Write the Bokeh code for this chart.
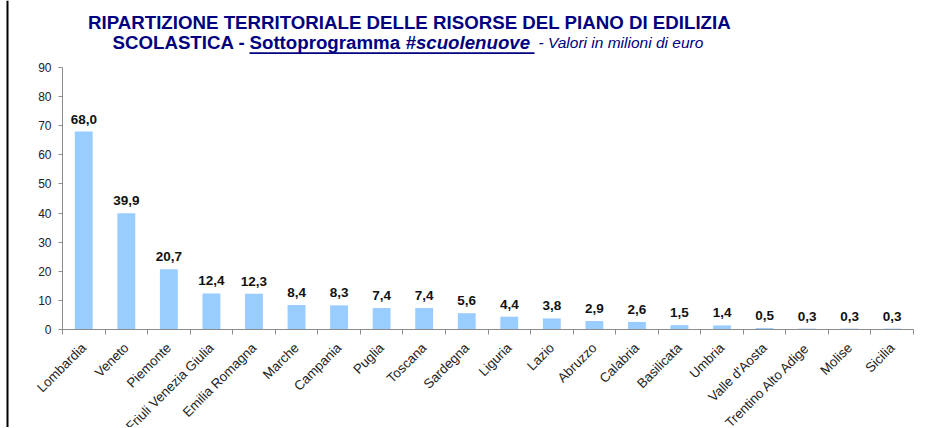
import math
import numpy as np
from bokeh.plotting import figure
from bokeh.models import (ColumnDataSource, Range1d, FixedTicker, LabelSet, Label,
                          BoxAnnotation, LinearAxis)
from bokeh.core.properties import value
from bokeh.embed import file_html
from bokeh.resources import INLINE

# ---- data ----
regions = ["Lombardia", "Veneto", "Piemonte", "Friuli Venezia Giulia", "Emilia Romagna",
           "Marche", "Campania", "Puglia", "Toscana", "Sardegna", "Liguria", "Lazio",
           "Abruzzo", "Calabria", "Basilicata", "Umbria", "Valle d'Aosta",
           "Trentino Alto Adige", "Molise", "Sicilia"]
values = [68.0, 39.9, 20.7, 12.4, 12.3, 8.4, 8.3, 7.4, 7.4, 5.6, 4.4, 3.8,
          2.9, 2.6, 1.5, 1.4, 0.5, 0.3, 0.3, 0.3]
y_ticks = [0, 10, 20, 30, 40, 50, 60, 70, 80, 90]

title_line1 = "RIPARTIZIONE TERRITORIALE DELLE RISORSE DEL PIANO DI EDILIZIA"
title_a = "SCOLASTICA - "
title_b = "Sottoprogramma"
title_c = "#scuolenuove"
title_d = "- Valori in milioni di euro"

FONT = "Liberation Sans"
NAVY = "#000080"
BAR = "#99CCFF"
AXIS = "#8c8c8c"
TXT = "#222222"

# ---- layout (pixels inside the canvas) ----
W, H = 924, 427
PL, PR, PT, PB = 62, 913, 67, 329   # plot area: left, right, top (y=max), bottom (y=0)

n = len(regions)
ymax = y_ticks[-1]
kx = (PR - PL) / n          # px per category
ky = (PB - PT) / ymax       # px per unit

x_range = Range1d(-PL / kx, n + (W - PR) / kx)
y_range = Range1d(-(H - PB) / ky, ymax + PT / ky)

def dx(fx):  # canvas px -> data x
    return (fx - PL) / kx

def dy(fy):  # canvas px (from top) -> data y
    return (PB - fy) / ky

centers = np.arange(n) + 0.5
src = ColumnDataSource(dict(
    x=centers, top=values, name=regions,
    lab=[f"{v:.1f}".replace(".", ",") for v in values],
    zero=[0.0] * n,
))

p = figure(width=W, height=H, output_backend="svg", toolbar_location=None,
           x_range=x_range, y_range=y_range,
           x_axis_location=None, y_axis_location=None,
           min_border_left=0, min_border_right=0, min_border_top=0, min_border_bottom=0)
p.outline_line_color = None
p.xgrid.visible = False
p.ygrid.visible = False
p.background_fill_color = "white"
p.border_fill_color = "white"

p.vbar(x="x", top="top", width=0.42, bottom=0, source=src,
       fill_color=BAR, line_color=None)

# axes, fixed at the data origin
yax = LinearAxis(fixed_location=0, bounds=(0, ymax), ticker=FixedTicker(ticks=y_ticks),
                 axis_line_color=AXIS, major_tick_line_color=AXIS,
                 minor_tick_line_color=None, major_tick_in=0, major_tick_out=4,
                 major_label_standoff=7, major_label_text_font=FONT,
                 major_label_text_font_size="12px", major_label_text_color=TXT)
p.add_layout(yax, "left")
xticks = list(range(n + 1))
xax = LinearAxis(fixed_location=0, bounds=(0, n), ticker=FixedTicker(ticks=xticks),
                 axis_line_color=AXIS, major_tick_line_color=AXIS,
                 minor_tick_line_color=None, major_tick_in=0, major_tick_out=5,
                 major_label_overrides={t: "" for t in xticks},
                 major_label_text_font_size="12px", major_label_standoff=0)
p.add_layout(xax, "below")

# value labels
p.add_layout(LabelSet(x="x", y="top", text="lab", source=src, text_align="center",
                      text_baseline="alphabetic", y_offset=8,
                      text_font=value(FONT), text_font_size="13.5px",
                      text_font_style="bold", text_color="#111111"))
# category labels
p.add_layout(LabelSet(x="x", y="zero", text="name", source=src, angle=math.pi / 4,
                      text_align="right", text_baseline="middle",
                      x_offset=0, y_offset=-16,
                      text_font=value(FONT), text_font_size="13.3px", text_color=TXT))

# title
def tlabel(fx, fy, text, size, style, align="left"):
    p.add_layout(Label(x=dx(fx), y=dy(fy), text=text, text_align=align,
                       text_baseline="alphabetic", text_font=FONT,
                       text_font_size=size, text_font_style=style, text_color=NAVY))

L2 = 42
tlabel(409, 21.5, title_line1, "18.7px", "bold", "center")
tlabel(112, L2, title_a, "18.7px", "bold")
tlabel(249, L2, title_b, "18.7px", "bold")
tlabel(405, L2, title_c, "18.7px", "bold italic")
tlabel(538, L2, title_d, "15.5px", "italic")

# underline of the sub-programme name
p.add_layout(BoxAnnotation(left=dx(249), right=dx(534), top=dy(51.8), bottom=dy(53.6),
                           fill_color=NAVY, fill_alpha=1.0, line_color=None))
# left border line of the slide
p.add_layout(BoxAnnotation(left=dx(6), right=dx(8), top=dy(0), bottom=dy(H),
                           fill_color="black", fill_alpha=1.0, line_color=None))

open("out.html", "w").write(file_html(p, INLINE))
